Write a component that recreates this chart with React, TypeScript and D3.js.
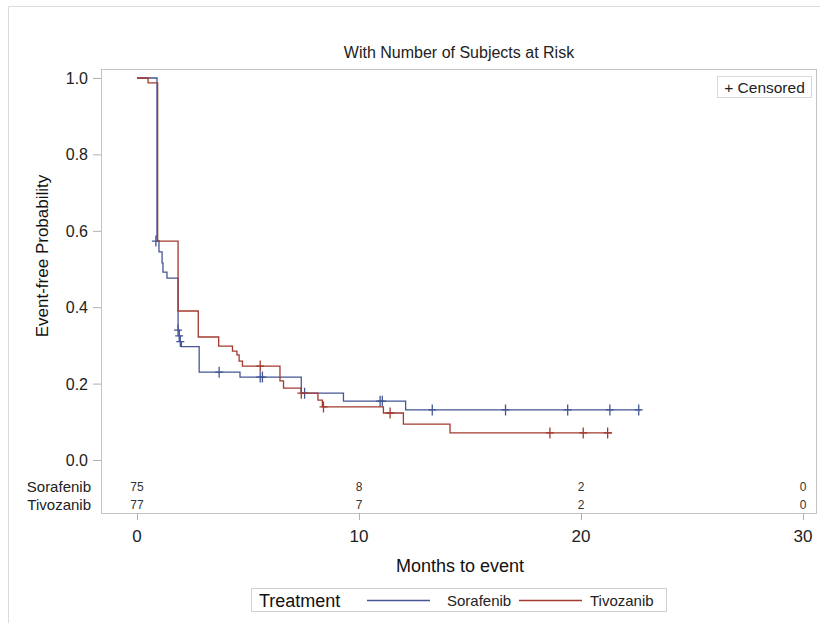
import { useEffect, useRef } from "react";
import * as d3 from "d3";

// Kaplan-Meier step points (months, survival)
const sorafenibTime = [0, 0.9, 0.99, 1.13, 1.17, 1.35, 1.85, 1.9, 1.95, 2.0, 2.8, 4.64, 7.4, 9.3, 12.1, 22.7];
const sorafenibSurv = [1.0, 0.573, 0.545, 0.516, 0.492, 0.476, 0.34, 0.325, 0.31, 0.297, 0.23, 0.217, 0.175, 0.154, 0.131, 0.131];
const sorafenibCensorTime = [0.85, 1.85, 1.9, 1.95, 3.7, 5.55, 5.65, 7.55, 10.95, 11.05, 13.3, 16.6, 19.4, 21.3, 22.6];
const sorafenibCensorSurv = [0.573, 0.34, 0.325, 0.31, 0.23, 0.217, 0.217, 0.175, 0.154, 0.154, 0.131, 0.131, 0.131, 0.131, 0.131];

const tivozanibTime = [0, 0.5, 0.93, 1.85, 2.76, 3.68, 4.3, 4.5, 4.6, 4.75, 6.44, 6.6, 7.4, 8.15, 8.35, 11.1, 12.0, 14.1, 21.4];
const tivozanibSurv = [1.0, 0.987, 0.573, 0.39, 0.322, 0.298, 0.285, 0.275, 0.259, 0.246, 0.207, 0.188, 0.175, 0.157, 0.139, 0.123, 0.094, 0.071, 0.071];
const tivozanibCensorTime = [5.55, 7.4, 8.4, 11.4, 18.6, 20.1, 21.2];
const tivozanibCensorSurv = [0.246, 0.175, 0.139, 0.123, 0.071, 0.071, 0.071];

const atRiskTimes = [0, 10, 20, 30];
const sorafenibAtRisk = [75, 8, 2, 0];
const tivozanibAtRisk = [77, 7, 2, 0];

const xTicks = [0, 10, 20, 30];
const yTicks = [0, 0.2, 0.4, 0.6, 0.8, 1.0];

const width = 820;
const height = 623;
const frameLeft = 101;
const frameRight = 816;
const frameTop = 69;
const frameBottom = 513;

const blue = "#445694";
const red = "#a23a2e";
const font = "'Liberation Sans', Arial, sans-serif";

const App = () => {
  const ref = useRef(null);

  useEffect(() => {
    const svg = d3.select(ref.current);
    svg.selectAll("*").remove();

    const x = d3.scaleLinear().domain([0, 30]).range([137, 803]);
    const y = d3.scaleLinear().domain([0, 1]).range([460, 78]);

    // outer border
    svg.append("path")
      .attr("d", `M8.5,${height} V6.5 H${width}`)
      .attr("fill", "none")
      .attr("stroke", "#dcdcdc");

    svg.append("text")
      .attr("x", 459)
      .attr("y", 58)
      .attr("text-anchor", "middle")
      .attr("font-size", 16)
      .attr("fill", "#222")
      .text("With Number of Subjects at Risk");

    // frame
    svg.append("rect")
      .attr("x", frameLeft + 0.5)
      .attr("y", frameTop + 0.5)
      .attr("width", frameRight - frameLeft)
      .attr("height", frameBottom - frameTop)
      .attr("fill", "none")
      .attr("stroke", "#c4c4c4");

    // y axis
    const yg = svg.append("g");
    yTicks.forEach((t) => {
      yg.append("line")
        .attr("x1", frameLeft - 8).attr("x2", frameLeft)
        .attr("y1", y(t) + 0.5).attr("y2", y(t) + 0.5)
        .attr("stroke", "#b0b0b0");
      yg.append("text")
        .attr("x", 88)
        .attr("y", y(t) + 6)
        .attr("text-anchor", "end")
        .attr("font-size", 16)
        .attr("fill", "#222")
        .text(d3.format(".1f")(t));
    });
    svg.append("text")
      .attr("transform", `translate(48,${256}) rotate(-90)`)
      .attr("text-anchor", "middle")
      .attr("font-size", 17)
      .attr("fill", "#111")
      .text("Event-free Probability");

    // x axis
    const xg = svg.append("g");
    xTicks.forEach((t) => {
      xg.append("line")
        .attr("x1", x(t) + 0.5).attr("x2", x(t) + 0.5)
        .attr("y1", frameBottom).attr("y2", frameBottom + 7)
        .attr("stroke", "#b0b0b0");
      xg.append("text")
        .attr("x", x(t))
        .attr("y", 542)
        .attr("text-anchor", "middle")
        .attr("font-size", 17)
        .attr("fill", "#222")
        .text(t);
    });
    svg.append("text")
      .attr("x", 460)
      .attr("y", 572)
      .attr("text-anchor", "middle")
      .attr("font-size", 18)
      .attr("fill", "#111")
      .text("Months to event");

    // at-risk table
    const rows = [
      { name: "Sorafenib", values: sorafenibAtRisk, yy: 492 },
      { name: "Tivozanib", values: tivozanibAtRisk, yy: 510 },
    ];
    rows.forEach((r) => {
      svg.append("text")
        .attr("x", 91)
        .attr("y", r.yy)
        .attr("text-anchor", "end")
        .attr("font-size", 15)
        .attr("fill", "#222")
        .text(r.name);
      r.values.forEach((v, i) => {
        svg.append("text")
          .attr("x", x(atRiskTimes[i]))
          .attr("y", r.yy - 1)
          .attr("text-anchor", "middle")
          .attr("font-size", 12)
          .attr("fill", "#333")
          .text(v);
      });
    });

    const line = d3.line<[number, number]>()
      .x((d) => x(d[0]))
      .y((d) => y(d[1]))
      .curve(d3.curveStepAfter);

    const groups = [
      { time: sorafenibTime, surv: sorafenibSurv, cT: sorafenibCensorTime, cS: sorafenibCensorSurv, color: blue },
      { time: tivozanibTime, surv: tivozanibSurv, cT: tivozanibCensorTime, cS: tivozanibCensorSurv, color: red },
    ];
    groups.forEach((g) => {
      const pts = g.time.map((t, i) => [t, g.surv[i]] as [number, number]);
      svg.append("path")
        .attr("d", line(pts))
        .attr("fill", "none")
        .attr("stroke", g.color)
        .attr("stroke-width", 1.3);
      g.cT.forEach((t, i) => {
        const cx = x(t);
        const cy = y(g.cS[i]);
        svg.append("path")
          .attr("d", `M${cx},${cy - 5.5}V${cy + 5.5}M${cx - 4},${cy}H${cx + 4}`)
          .attr("stroke", g.color)
          .attr("stroke-width", 1.3);
      });
    });

    // censored legend
    svg.append("rect")
      .attr("x", 717.5).attr("y", 76.5)
      .attr("width", 94).attr("height", 21)
      .attr("fill", "white")
      .attr("stroke", "#d8d8d8");
    svg.append("text")
      .attr("x", 764.5)
      .attr("y", 92.5)
      .attr("text-anchor", "middle")
      .attr("font-size", 15.5)
      .attr("fill", "#222")
      .text("+ Censored");

    // treatment legend
    svg.append("rect")
      .attr("x", 251.5).attr("y", 588.5)
      .attr("width", 415).attr("height", 23)
      .attr("fill", "white")
      .attr("stroke", "#d0d0d0");
    svg.append("text")
      .attr("x", 259).attr("y", 607)
      .attr("font-size", 18)
      .attr("fill", "#111")
      .text("Treatment");
    const legendItems = [
      { name: "Sorafenib", color: blue, x0: 367, tx: 447 },
      { name: "Tivozanib", color: red, x0: 519, tx: 590 },
    ];
    legendItems.forEach((it) => {
      svg.append("line")
        .attr("x1", it.x0).attr("x2", it.x0 + 63)
        .attr("y1", 600.5).attr("y2", 600.5)
        .attr("stroke", it.color)
        .attr("stroke-width", 1.3);
      svg.append("text")
        .attr("x", it.tx).attr("y", 606)
        .attr("font-size", 15)
        .attr("fill", "#222")
        .text(it.name);
    });
  }, []);

  return (
    <svg
      ref={ref}
      width={width}
      height={height}
      viewBox={`0 0 ${width} ${height}`}
      style={{ position: "absolute", left: 0, top: 0, background: "white", fontFamily: font }}
    />
  );
};

export default App;
